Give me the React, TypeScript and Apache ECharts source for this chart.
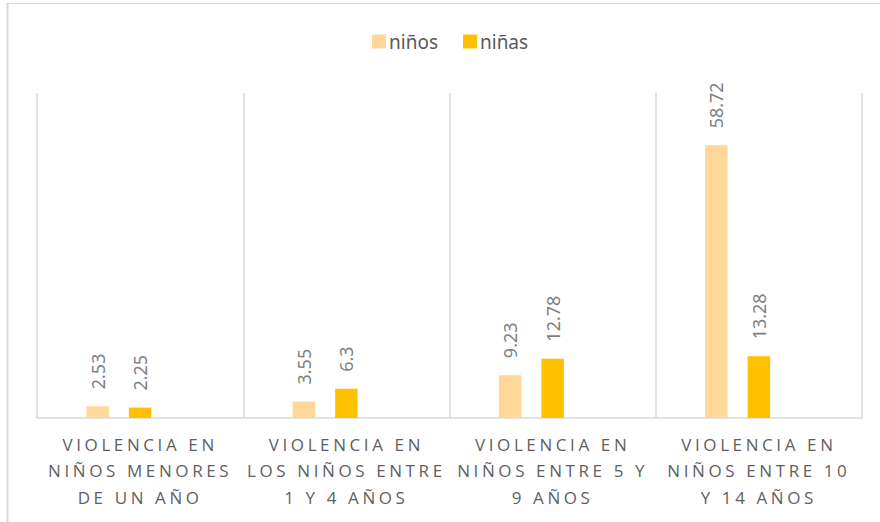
import React, { useEffect, useRef } from "react";
import * as echarts from "echarts";

const categories = [
  "VIOLENCIA EN\nNIÑOS MENORES\nDE UN AÑO",
  "VIOLENCIA EN\nLOS NIÑOS ENTRE\n1 Y 4 AÑOS",
  "VIOLENCIA EN\nNIÑOS ENTRE 5 Y\n9 AÑOS",
  "VIOLENCIA EN\nNIÑOS ENTRE 10\nY 14 AÑOS",
];
const seriesNames = ["niños", "niñas"];
const ninos = [2.53, 3.55, 9.23, 58.72];
const ninas = [2.25, 6.3, 12.78, 13.28];
const emptySlot = ["-", "-", "-", "-"];

const COLORS = ["#FFD899", "#FFC000"];

export default function App() {
  const ref = useRef<HTMLDivElement>(null);
  useEffect(() => {
    if (!ref.current) return;
    const chart = echarts.init(ref.current, undefined, { renderer: "svg" });
    const labelCfg = {
      show: true,
      position: "top" as const,
      rotate: 90,
      align: "left" as const,
      verticalAlign: "middle" as const,
      distance: 17,
      color: "#7f7f7f",
      fontSize: 18,
      fontFamily: "Noto Sans",
    };
    chart.setOption({
      animation: false,
      backgroundColor: "#ffffff",
      legend: {
        data: seriesNames,
        left: 367,
        top: 27,
        itemWidth: 14,
        itemHeight: 14,
        itemGap: 25,
        icon: "rect",
        textStyle: { color: "#595959", fontSize: 19, fontFamily: "Noto Sans", padding: [0, 0, 0, -2] },
      },
      grid: { left: 37, right: 18, top: 93, bottom: 104 },
      xAxis: {
        type: "category",
        data: categories,
        axisLine: { lineStyle: { color: "#d9d9d9", width: 1.5 } },
        axisTick: { show: false },
        splitLine: { show: true, lineStyle: { color: "#d9d9d9", width: 1.5 } },
        axisLabel: {
          interval: 0,
          color: "#5f5f5f",
          fontSize: 17,
          fontFamily: "Open Sans",
          lineHeight: 26.5,
          margin: 13,
        },
      },
      yAxis: {
        type: "value",
        min: 0,
        max: 70,
        show: false,
        splitLine: { show: false },
      },
      series: [
        {
          name: seriesNames[0],
          type: "bar",
          data: ninos,
          barWidth: 22.5,
          barGap: "89%",
          itemStyle: { color: COLORS[0] },
          label: labelCfg,
        },
        {
          name: seriesNames[1],
          type: "bar",
          data: ninas,
          barWidth: 22.5,
          barGap: "89%",
          itemStyle: { color: COLORS[1] },
          label: labelCfg,
        },
        {
          name: "vacío",
          type: "bar",
          data: emptySlot,
          barWidth: 22.5,
          barGap: "89%",
          itemStyle: { color: "#ffffff" },
        },
      ],
      graphic: [
        {
          type: "line",
          shape: { x1: 7, y1: 3.5, x2: 880, y2: 3.5 },
          style: { stroke: "#d9d9d9", lineWidth: 1 },
        },
        {
          type: "line",
          shape: { x1: 7.5, y1: 3, x2: 7.5, y2: 522 },
          style: { stroke: "#d9d9d9", lineWidth: 2 },
        },
      ],
    });
    return () => chart.dispose();
  }, []);
  return (
    <>
      <style>{`#chartbox text[style*="Open Sans"], #chartbox text[font-family*="Open Sans"] { letter-spacing: 3.6px; }`}</style>
      <div
        id="chartbox"
        ref={ref}
        style={{ position: "fixed", left: 0, top: 0, width: 880, height: 522 }}
      />
    </>
  );
}
